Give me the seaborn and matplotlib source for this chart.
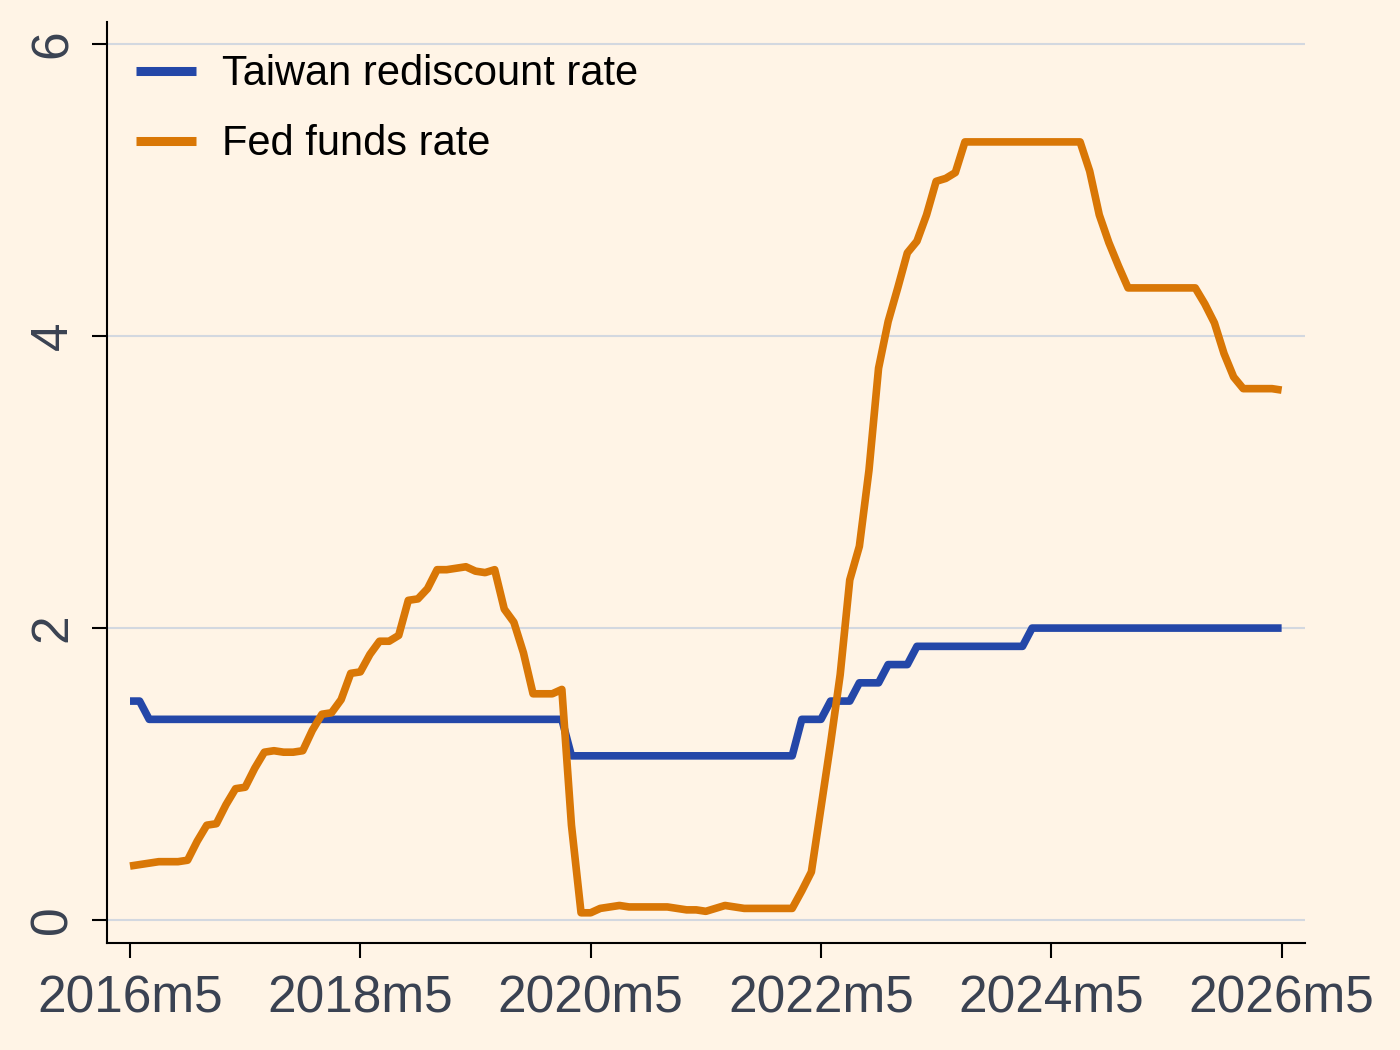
import matplotlib

matplotlib.use("Agg")
import matplotlib.pyplot as plt
import pandas as pd
import seaborn as sns

# monthly data, 2016m5 .. 2026m5
START = "2016-05"
END = "2026-05"

taiwan_rate = [
    1.5, 1.5, 1.375, 1.375, 1.375, 1.375, 1.375, 1.375,                      # 2016m5-m12
    1.375, 1.375, 1.375, 1.375, 1.375, 1.375, 1.375, 1.375, 1.375, 1.375, 1.375, 1.375,  # 2017
    1.375, 1.375, 1.375, 1.375, 1.375, 1.375, 1.375, 1.375, 1.375, 1.375, 1.375, 1.375,  # 2018
    1.375, 1.375, 1.375, 1.375, 1.375, 1.375, 1.375, 1.375, 1.375, 1.375, 1.375, 1.375,  # 2019
    1.375, 1.375, 1.125, 1.125, 1.125, 1.125, 1.125, 1.125, 1.125, 1.125, 1.125, 1.125,  # 2020
    1.125, 1.125, 1.125, 1.125, 1.125, 1.125, 1.125, 1.125, 1.125, 1.125, 1.125, 1.125,  # 2021
    1.125, 1.125, 1.375, 1.375, 1.375, 1.5, 1.5, 1.5, 1.625, 1.625, 1.625, 1.75,        # 2022
    1.75, 1.75, 1.875, 1.875, 1.875, 1.875, 1.875, 1.875, 1.875, 1.875, 1.875, 1.875,  # 2023
    1.875, 1.875, 2.0, 2.0, 2.0, 2.0, 2.0, 2.0, 2.0, 2.0, 2.0, 2.0,                    # 2024
    2.0, 2.0, 2.0, 2.0, 2.0, 2.0, 2.0, 2.0, 2.0, 2.0, 2.0, 2.0,                        # 2025
    2.0, 2.0, 2.0, 2.0, 2.0,                                                           # 2026m1-m5
]

fed_rate = [
    0.37, 0.38, 0.39, 0.40, 0.40, 0.40, 0.41, 0.54,                                    # 2016m5-m12
    0.65, 0.66, 0.79, 0.90, 0.91, 1.04, 1.15, 1.16, 1.15, 1.15, 1.16, 1.30,            # 2017
    1.41, 1.42, 1.51, 1.69, 1.70, 1.82, 1.91, 1.91, 1.95, 2.19, 2.20, 2.27,            # 2018
    2.40, 2.40, 2.41, 2.42, 2.39, 2.38, 2.40, 2.13, 2.04, 1.83, 1.55, 1.55,            # 2019
    1.55, 1.58, 0.65, 0.05, 0.05, 0.08, 0.09, 0.10, 0.09, 0.09, 0.09, 0.09,            # 2020
    0.09, 0.08, 0.07, 0.07, 0.06, 0.08, 0.10, 0.09, 0.08, 0.08, 0.08, 0.08,            # 2021
    0.08, 0.08, 0.20, 0.33, 0.77, 1.21, 1.68, 2.33, 2.56, 3.08, 3.78, 4.10,            # 2022
    4.33, 4.57, 4.65, 4.83, 5.06, 5.08, 5.12, 5.33, 5.33, 5.33, 5.33, 5.33,            # 2023
    5.33, 5.33, 5.33, 5.33, 5.33, 5.33, 5.33, 5.33, 5.13, 4.83, 4.64, 4.48,            # 2024
    4.33, 4.33, 4.33, 4.33, 4.33, 4.33, 4.33, 4.33, 4.22, 4.09, 3.88, 3.72,            # 2025
    3.64, 3.64, 3.64, 3.64, 3.63,                                                      # 2026m1-m5
]

series_names = ["Taiwan rediscount rate", "Fed funds rate"]
series_colors = ["#2447A8", "#D97706"]
tick_labels = ["2016m5", "2018m5", "2020m5", "2022m5", "2024m5", "2026m5"]
y_ticks = [0, 2, 4, 6]

BG = "#FFF4E6"
TICK_COLOR = "#3A4252"

sns.set_theme(style="white")
plt.rcParams["font.family"] = ["Liberation Sans", "DejaVu Sans"]


def stata_month(year: int, month: int) -> int:
    """Months since 1960m1, like Stata's %tm."""
    return (year - 1960) * 12 + month - 1


months = pd.period_range(START, END, freq="M")
month_num = [stata_month(p.year, p.month) for p in months]

df = pd.DataFrame(
    {"month": month_num, series_names[0]: taiwan_rate, series_names[1]: fed_rate}
).melt(id_vars="month", var_name="series", value_name="rate")

tick_pos = [stata_month(int(t.split("m")[0]), int(t.split("m")[1])) for t in tick_labels]

fig = plt.figure(figsize=(14, 10.5), dpi=100)
fig.patch.set_facecolor(BG)
ax = fig.add_axes([0.0762, 0.1019, 0.9321 - 0.0762, 0.979 - 0.1019])
ax.set_facecolor(BG)

sns.lineplot(
    data=df,
    x="month",
    y="rate",
    hue="series",
    hue_order=series_names,
    palette=series_colors,
    linewidth=5.5,
    ax=ax,
)
for line in ax.lines:
    line.set_linewidth(5.5)
    line.set_solid_capstyle("butt")
    line.set_solid_joinstyle("round")

x0, x1 = month_num[0], month_num[-1]
ax.set_xlim(x0 - 2.43, x1 + 2.43)
ax.set_ylim(-0.157, 6.151)

ax.set_xticks(tick_pos)
ax.set_xticklabels(tick_labels)
ax.set_yticks(y_ticks)
ax.set_yticklabels([str(v) for v in y_ticks])

ax.grid(axis="y", color="#D3D8E0", linewidth=1.5)
ax.set_axisbelow(True)
ax.set_xlabel("")
ax.set_ylabel("")

for side in ["top", "right"]:
    ax.spines[side].set_visible(False)
for side in ["left", "bottom"]:
    ax.spines[side].set_color("black")
    ax.spines[side].set_linewidth(1.5)

ax.tick_params(axis="both", which="major", direction="out", length=11, width=1.5,
               color="black", labelsize=37, labelcolor=TICK_COLOR, bottom=True, left=True)
ax.tick_params(axis="x", pad=12)
ax.tick_params(axis="y", pad=10, labelrotation=90)
for lab in ax.get_yticklabels():
    lab.set_verticalalignment("center")

handles, labels = ax.get_legend_handles_labels()
leg = ax.legend(
    handles,
    labels,
    loc="upper left",
    bbox_to_anchor=(0.0105, 0.983),
    frameon=False,
    fontsize=30,
    handlelength=1.45,
    handletextpad=0.62,
    labelspacing=0.72,
    borderaxespad=0,
)
for line in leg.get_lines():
    line.set_linewidth(6.5)
    line.set_solid_capstyle("butt")
for text in leg.get_texts():
    text.set_color("black")

fig.savefig("out.png", dpi=100, facecolor=BG)
plt.close(fig)
